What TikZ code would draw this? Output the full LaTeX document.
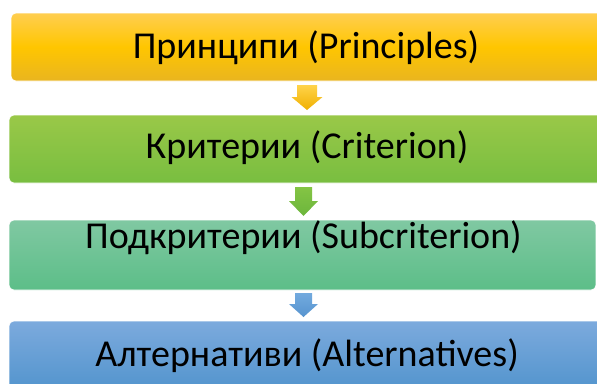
\documentclass[tikz,border=0pt]{standalone}
\usepackage{fontspec}
\setmainfont{Carlito}
\definecolor{yTop}{HTML}{FFCE50}
\definecolor{yMid}{HTML}{FFC600}
\definecolor{yBot}{HTML}{E9B520}
\definecolor{gTop}{HTML}{9AC848}
\definecolor{gBot}{HTML}{78BE40}
\definecolor{mTop}{HTML}{80C8A2}
\definecolor{mBot}{HTML}{5CBE88}
\definecolor{bTop}{HTML}{7CAADD}
\definecolor{bBot}{HTML}{5294CD}
\definecolor{ayTop}{HTML}{FFD34A}
\definecolor{ayBot}{HTML}{F0B000}
\definecolor{agTop}{HTML}{84C444}
\definecolor{agBot}{HTML}{6CB63C}
\definecolor{abTop}{HTML}{72AADE}
\definecolor{abBot}{HTML}{5794CF}
\begin{document}
\begin{tikzpicture}[x=1pt,y=-1pt,
  boxbase/.style={rounded corners=5pt, inner sep=0pt, draw=white, line width=0.6pt},
  lbl/.style={anchor=base, inner sep=0pt, font=\fontsize{38}{44}\selectfont, text=black},
]
\useasboundingbox (0,0) rectangle (597,383);
\fill[white] (0,0) rectangle (597,383);
\begin{scope}
\clip (0,0) rectangle (597,383);
\node[boxbase, minimum width=595pt, minimum height=68pt,
      top color=yTop, bottom color=yBot, middle color=yMid] (b1) at (308.5,47) {};
\node[boxbase, minimum width=597pt, minimum height=68pt,
      top color=gTop, bottom color=gBot] (b2) at (307.5,149) {};
\node[boxbase, minimum width=587pt, minimum height=70pt,
      top color=mTop, bottom color=mBot] (b3) at (302.5,255) {};
\node[boxbase, minimum width=597pt, minimum height=70pt,
      top color=bTop, bottom color=bBot] (b4) at (307.5,356) {};

\node[lbl] (t1) at (306,58) {Принципи (Principles)};
\node[lbl] (t2) at (307,158) {Критерии (Criterion)};
\node[lbl] (t3) at (303.5,248) {Подкритерии (Subcriterion)};
\node[lbl] (t4) at (307,366) {Алтернативи (Alternatives)};

\shade[top color=ayTop, bottom color=ayBot]
  (297,85) -- (317,85) -- (317,97) -- (322.5,97) -- (307,110) -- (291.5,97) -- (297,97) -- cycle;
\shade[top color=agTop, bottom color=agBot]
  (295,187) -- (312,187) -- (312,201) -- (318,201) -- (303.5,216) -- (289,201) -- (295,201) -- cycle;
\shade[top color=abTop, bottom color=abBot]
  (295,293) -- (312,293) -- (312,304) -- (318,304) -- (303.5,317) -- (289,304) -- (295,304) -- cycle;
\end{scope}
\end{tikzpicture}
\end{document}
